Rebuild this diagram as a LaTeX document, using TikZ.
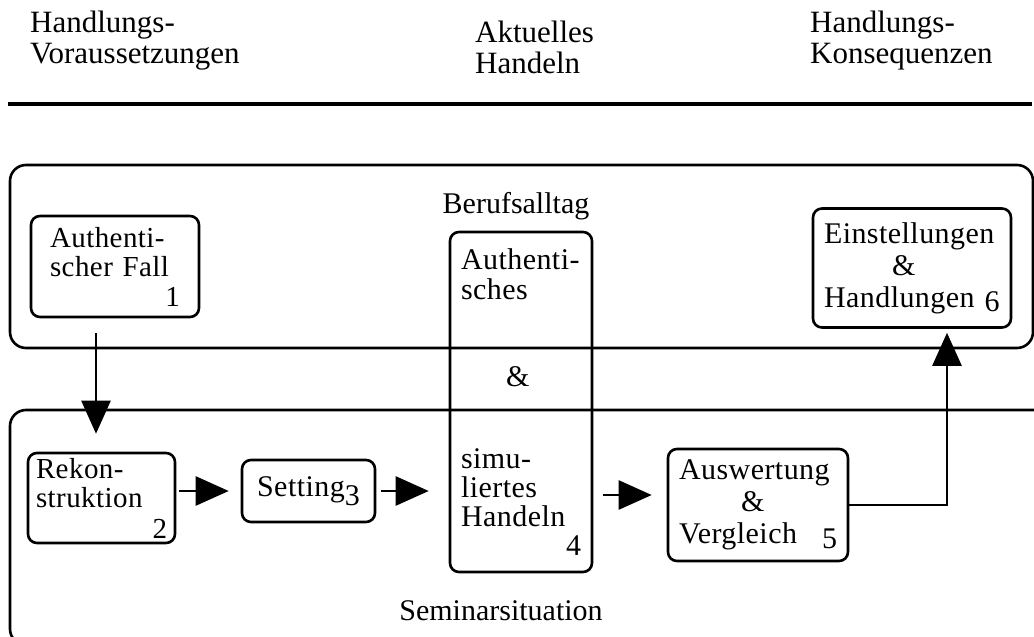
\documentclass[tikz,border=0pt]{standalone}
\usepackage{fontspec}
\setmainfont{Liberation Serif}
\newfontfamily\boxfont{Liberation Serif}[LetterSpace=1.5]
\usetikzlibrary{arrows.meta}

\begin{document}
\begin{tikzpicture}[x=1pt,y=1pt,yscale=-1,
  every node/.style={font=\fontsize{30}{27}\selectfont},
  head/.style={font=\fontsize{31}{31}\selectfont, align=left, inner sep=0pt},
  bigbox/.style={draw, line width=2.6pt, rounded corners=16pt, inner sep=0pt},
  stepbox/.style={draw, line width=2.6pt, rounded corners=9pt, align=left, inner ysep=0pt},
  arr/.style={line width=2.6pt, -{Triangle[length=33pt,width=29pt]}}]

\useasboundingbox (0,0) rectangle (1034,637);

\node[head, anchor=north west] (hvor) at (30,11) {Handlungs-\\Voraussetzungen};
\node[head, anchor=north west] (hakt) at (475,21) {Aktuelles\\Handeln};
\node[head, anchor=north west] (hkon) at (810,11) {Handlungs-\\Konsequenzen};

\draw[line width=3.8pt] (8,104) -- (1032,104);

\node[bigbox, minimum width=1023pt, minimum height=183pt] (beruf) at (521.5,256.5) {};
\node[bigbox, minimum width=1050pt, minimum height=235pt] (seminar) at (535,527.5) {};

\node[anchor=base] (berufl) at (516,213) {Berufsalltag};
\node[anchor=base] (seminarl) at (501,620) {Seminarsituation};

\node[stepbox, minimum width=168pt, minimum height=101pt, inner xsep=19pt, text width=130pt,
  font=\boxfont\fontsize{29}{29}\selectfont] (fall) at (115,266.5)
  {Authenti-\\scher Fall\\[1pt]\hfill 1};
\node[stepbox, minimum width=147pt, minimum height=90pt, inner xsep=8pt, text width=131pt,
  font=\boxfont\fontsize{29}{29}\selectfont] (rekon) at (101.5,498)
  {Rekon-\\struktion\\[2pt]\hfill 2\hspace*{4pt}};
\node[stepbox, minimum width=133pt, minimum height=62pt,
  font=\boxfont\fontsize{30}{27}\selectfont] (setting) at (308.5,491)
  {Setting\raisebox{-9pt}{3}};
\node[stepbox, minimum width=142pt, minimum height=340pt, inner xsep=11pt, text width=120pt,
  font=\boxfont\fontsize{30}{29}\selectfont] (mid) at (521,402)
  {Authenti-\\[1pt]sches\\[58pt]\hspace*{45pt}\&\\[53pt]simu-\\liertes\\Handeln\\\hfill 4\hspace*{8pt}};
\node[stepbox, minimum width=180pt, minimum height=112pt, inner xsep=11pt, text width=158pt,
  font=\boxfont\fontsize{30}{32}\selectfont] (ausw) at (758,505)
  {Auswertung\\\hspace*{62pt}\&\\Vergleich\hfill\raisebox{-5pt}{5}};
\node[stepbox, minimum width=198pt, minimum height=119pt, inner xsep=11pt, text width=176pt,
  font=\boxfont\fontsize{30}{32}\selectfont] (einst) at (912,268)
  {Einstellungen\\\hspace*{68pt}\&\\Handlungen \raisebox{-4pt}{6}};

\draw[arr, shorten <=15pt, shorten >=18pt] ([xshift=-19pt]fall.south) -- ([xshift=-19pt]fall.south |- rekon.north);
\draw[arr, shorten <=3pt, shorten >=12pt] (rekon.east |- setting.west) -- (setting.west);
\draw[arr, shorten <=5pt, shorten >=20pt] (setting.east) -- (setting.east -| mid.west);
\draw[arr, shorten <=10pt, shorten >=15pt] (mid.east |- 0,495) -- (ausw.west |- 0,495);
\draw[arr, shorten >=4pt] (ausw.east) -| ([xshift=35pt]einst.south);

\end{tikzpicture}
\end{document}
